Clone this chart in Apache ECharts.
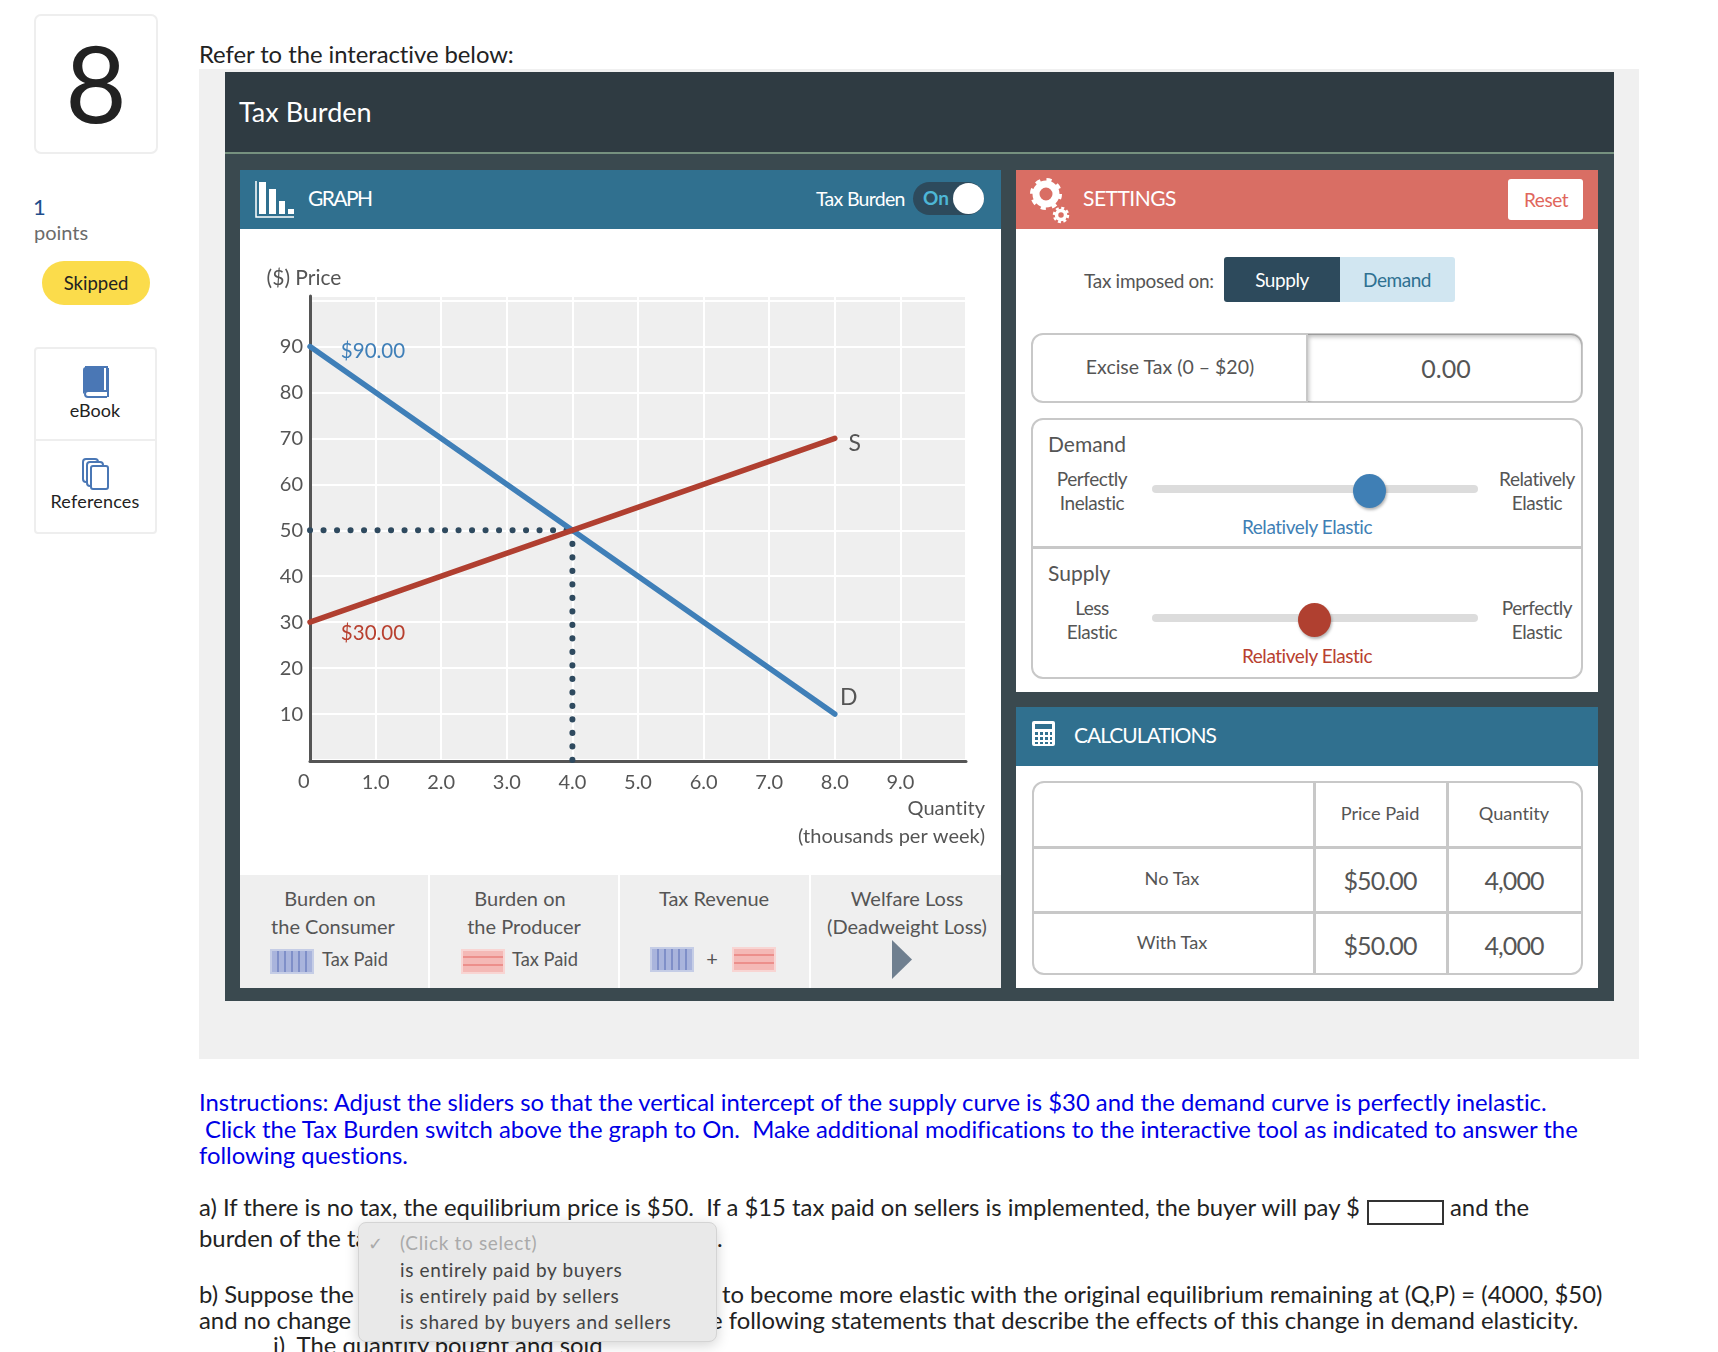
<!DOCTYPE html>
<html>
<head>
<meta charset="utf-8">
<title>Tax Burden</title>
<script src="https://cdn.jsdelivr.net/npm/echarts@6/dist/echarts.min.js"></script>
<style>
html,body{margin:0;padding:0;background:#fff;}
#page{position:relative;width:1718px;height:1352px;overflow:hidden;font-family:Lato,sans-serif;color:#222;font-variant-ligatures:none;}
.b{position:absolute;box-sizing:border-box;}
.t{position:absolute;white-space:pre;transform:translateY(-50%);line-height:1;margin-top:-1px;}
.c{transform:translate(-50%,-50%);}
.g{color:#555;font-size:20px;}
.s{font-size:19px;letter-spacing:-.45px;}
.w{color:#fff;}
.q{font-size:23.85px;color:#222;}
.i{font-size:23.85px;color:#0000e6;}
.d{font-size:19px;color:#444;left:400px;letter-spacing:.65px;}
.sw-b{background:repeating-linear-gradient(90deg,#a9b4dc 0 5px,#7f8fc8 5px 7px);border:2px solid #c5cde6;}
.sw-r{background:repeating-linear-gradient(0deg,#f4b9b6 0 6px,#ec8f8b 6px 8px);border:2px solid #f8d5d3;}
</style>
</head>
<body>
<div id="page">

<!-- left rail -->
<div class="b" style="left:34px;top:14px;width:124px;height:140px;border:2px solid #eee;border-radius:7px;"></div>
<div class="t c" style="left:96px;top:83px;font-size:106px;color:#222;">8</div>
<div class="t" style="left:33px;top:208px;font-size:22px;color:#1f4e8c;">1</div>
<div class="t" style="left:34px;top:233px;font-size:20px;color:#6b6b6b;">points</div>
<div class="b" style="left:42px;top:261px;width:108px;height:44px;border-radius:22px;background:#fbdc4b;"></div>
<div class="t c" style="left:96px;top:284px;font-size:18.5px;">Skipped</div>
<div class="b" style="left:34px;top:347px;width:123px;height:187px;border:2px solid #eee;border-radius:4px;"></div>
<div class="b" style="left:35px;top:439px;width:121px;height:2px;background:#eee;"></div>
<svg class="b" style="left:82px;top:366px;" width="28" height="32" viewBox="0 0 28 32">
  <path d="M3 1h22v24H6a3 3 0 0 0 0 6h19" fill="none" stroke="#4a77b5" stroke-width="2"/>
  <path d="M1 4a3 3 0 0 1 3-3h18v25H5a4 4 0 0 0-4 2z" fill="#4a77b5"/>
  <path d="M26 2v29" stroke="#4a77b5" stroke-width="2"/>
</svg>
<div class="t c" style="left:95px;top:411px;font-size:18px;">eBook</div>
<svg class="b" style="left:82px;top:458px;" width="28" height="32" viewBox="0 0 28 32" fill="#fff" stroke="#4a77b5" stroke-width="2">
  <rect x="1" y="1" width="15" height="23" rx="3"/>
  <rect x="5" y="4" width="16" height="24" rx="3"/>
  <rect x="9" y="8" width="17" height="23" rx="2"/>
</svg>
<div class="t c" style="left:95px;top:502px;font-size:18px;letter-spacing:.2px;">References</div>

<div class="t q" style="left:199px;top:55px;letter-spacing:-.05px;">Refer to the interactive below:</div>

<!-- interactive frame -->
<div class="b" style="left:199px;top:69px;width:1440px;height:990px;background:#f0f0f0;"></div>
<div class="b" style="left:225px;top:72px;width:1389px;height:929px;background:#3a494f;"></div>
<div class="b" style="left:225px;top:72px;width:1389px;height:82px;background:#2f3b42;border-bottom:2px solid #76917f;"></div>
<div class="t w" style="left:239px;top:112px;font-size:27px;">Tax Burden</div>

<!-- graph panel -->
<div class="b" style="left:240px;top:170px;width:761px;height:818px;background:#fff;"></div>
<div class="b" style="left:240px;top:170px;width:761px;height:59px;background:#30708f;"></div>
<svg class="b" style="left:255px;top:181px;" width="40" height="38" viewBox="0 0 40 38" fill="#fff">
  <path d="M1 0v36h38" fill="none" stroke="#fff" stroke-width="1.5"/>
  <rect x="4" y="1" width="7" height="32"/><rect x="14" y="8" width="7" height="25"/>
  <rect x="24" y="20" width="6" height="13"/><rect x="33" y="28" width="6" height="5"/>
</svg>
<div class="t w" style="left:308px;top:198px;font-size:21px;letter-spacing:-1.6px;">GRAPH</div>
<div class="t w" style="left:816px;top:200px;font-size:19.5px;letter-spacing:-.7px;">Tax Burden</div>
<div class="b" style="left:913px;top:182px;width:71px;height:33px;border-radius:17px;background:#2d4a5c;"></div>
<div class="t" style="left:923px;top:198px;font-size:19px;font-weight:700;color:#4db6d6;">On</div>
<div class="b" style="left:953px;top:183px;width:31px;height:31px;border-radius:50%;background:#fff;"></div>

<div id="main" class="b" style="left:240px;top:229px;width:761px;height:646px;"></div>

<div class="b" style="left:240px;top:875px;width:188px;height:113px;background:#efefef;"></div>
<div class="b" style="left:430px;top:875px;width:188px;height:113px;background:#efefef;"></div>
<div class="b" style="left:620px;top:875px;width:189px;height:113px;background:#efefef;"></div>
<div class="b" style="left:811px;top:875px;width:190px;height:113px;background:#efefef;"></div>
<div class="t c g" style="left:330px;top:899px;">Burden on</div>
<div class="t c g" style="left:333px;top:927px;">the Consumer</div>
<div class="b sw-b" style="left:270px;top:949px;width:44px;height:25px;"></div>
<div class="t g" style="left:322px;top:960px;font-size:18.3px;">Tax Paid</div>
<div class="t c g" style="left:520px;top:899px;">Burden on</div>
<div class="t c g" style="left:524px;top:927px;">the Producer</div>
<div class="b sw-r" style="left:461px;top:949px;width:44px;height:25px;"></div>
<div class="t g" style="left:512px;top:960px;font-size:18.3px;">Tax Paid</div>
<div class="t c g" style="left:714px;top:899px;">Tax Revenue</div>
<div class="b sw-b" style="left:650px;top:947px;width:44px;height:25px;"></div>
<div class="t c g" style="left:712px;top:959px;">+</div>
<div class="b sw-r" style="left:732px;top:947px;width:44px;height:25px;"></div>
<div class="t c g" style="left:907px;top:899px;">Welfare Loss</div>
<div class="t c g" style="left:907px;top:927px;">(Deadweight Loss)</div>
<svg class="b" style="left:892px;top:940px;" width="20" height="39"><path d="M0 0L20 19.5L0 39z" fill="#6f7f8f"/></svg>

<!-- settings panel -->
<div class="b" style="left:1016px;top:170px;width:582px;height:522px;background:#fff;"></div>
<div class="b" style="left:1016px;top:170px;width:582px;height:59px;background:#d96e64;"></div>
<svg class="b" style="left:1030px;top:178px;" width="40" height="46" viewBox="0 0 40 46">
  <circle cx="16" cy="16" r="10" fill="none" stroke="#fff" stroke-width="7"/>
  <circle cx="16" cy="16" r="14" fill="none" stroke="#fff" stroke-width="4" stroke-dasharray="5 6"/>
  <circle cx="31" cy="37" r="4.5" fill="none" stroke="#fff" stroke-width="3.5"/>
  <circle cx="31" cy="37" r="7" fill="none" stroke="#fff" stroke-width="2.5" stroke-dasharray="3 2.5"/>
</svg>
<div class="t w" style="left:1083px;top:198px;font-size:21px;letter-spacing:-.5px;">SETTINGS</div>
<div class="b" style="left:1508px;top:179px;width:75px;height:41px;background:#fff;border-radius:3px;"></div>
<div class="t c s" style="left:1546px;top:200px;color:#e0665c;">Reset</div>
<div class="t g s" style="left:1084px;top:281px;letter-spacing:-.3px;">Tax imposed on:</div>
<div class="b" style="left:1224px;top:257px;width:116px;height:45px;background:#2d4a5c;border-radius:3px 0 0 3px;"></div>
<div class="t c w s" style="left:1282px;top:280px;">Supply</div>
<div class="b" style="left:1340px;top:257px;width:115px;height:45px;background:#d1e6f1;border-radius:0 3px 3px 0;"></div>
<div class="t c s" style="left:1397px;top:280px;color:#2f7191;">Demand</div>

<div class="b" style="left:1031px;top:333px;width:552px;height:70px;border:2.5px solid #c8c8c8;border-radius:12px;"></div>
<div class="b" style="left:1306px;top:334px;width:276px;height:68px;border-left:2.5px solid #c8c8c8;border-radius:0 11px 11px 0;box-shadow:inset 1px 3px 4px rgba(0,0,0,.25);"></div>
<div class="t c g" style="left:1170px;top:368px;font-size:19.5px;">Excise Tax (0 – $20)</div>
<div class="t c g" style="left:1446px;top:369px;font-size:25px;">0.00</div>

<div class="b" style="left:1031px;top:418px;width:552px;height:261px;border:2.5px solid #c8c8c8;border-radius:12px;"></div>
<div class="b" style="left:1032px;top:546px;width:550px;height:2.5px;background:#c8c8c8;"></div>
<div class="t g" style="left:1048px;top:444px;font-size:21px;">Demand</div>
<div class="t c g s" style="left:1092px;top:479px;">Perfectly</div>
<div class="t c g s" style="left:1092px;top:503px;">Inelastic</div>
<div class="b" style="left:1152px;top:485px;width:326px;height:8px;border-radius:4px;background:#dcdcdc;"></div>
<div class="b" style="left:1353px;top:474px;width:33px;height:34px;border-radius:50%;background:#3f7fb5;box-shadow:1px 2px 3px rgba(0,0,0,.3);"></div>
<div class="t c g s" style="left:1537px;top:479px;">Relatively</div>
<div class="t c g s" style="left:1537px;top:503px;">Elastic</div>
<div class="t c s" style="left:1307px;top:527px;color:#3f7fb5;">Relatively Elastic</div>
<div class="t g" style="left:1048px;top:573px;font-size:21px;">Supply</div>
<div class="t c g s" style="left:1092px;top:608px;">Less</div>
<div class="t c g s" style="left:1092px;top:632px;">Elastic</div>
<div class="b" style="left:1152px;top:614px;width:326px;height:8px;border-radius:4px;background:#dcdcdc;"></div>
<div class="b" style="left:1298px;top:603px;width:33px;height:34px;border-radius:50%;background:#b04030;box-shadow:1px 2px 3px rgba(0,0,0,.3);"></div>
<div class="t c g s" style="left:1537px;top:608px;">Perfectly</div>
<div class="t c g s" style="left:1537px;top:632px;">Elastic</div>
<div class="t c s" style="left:1307px;top:656px;color:#b8402f;">Relatively Elastic</div>

<!-- calculations panel -->
<div class="b" style="left:1016px;top:707px;width:582px;height:281px;background:#fff;"></div>
<div class="b" style="left:1016px;top:707px;width:582px;height:59px;background:#30708f;"></div>
<svg class="b" style="left:1032px;top:721px;" width="23" height="25" viewBox="0 0 23 25">
  <rect width="23" height="25" rx="2" fill="#fff"/><rect x="3" y="3" width="17" height="5" fill="#30708f"/>
  <path d="M3 11h3v3H3zM8 11h3v3H8zM13 11h3v3h-3zM18 11h2v3h-2zM3 16h3v3H3zM8 16h3v3H8zM13 16h3v3h-3zM18 16h2v3h-2zM3 21h3v2H3zM8 21h3v2H8zM13 21h3v2h-3zM18 21h2v2h-2z" fill="#30708f"/>
</svg>
<div class="t w" style="left:1074px;top:735px;font-size:21px;letter-spacing:-1px;">CALCULATIONS</div>
<div class="b" style="left:1032px;top:781px;width:551px;height:194px;border:2.5px solid #c8c8c8;border-radius:12px;"></div>
<div class="b" style="left:1033px;top:846px;width:549px;height:2.5px;background:#c8c8c8;"></div>
<div class="b" style="left:1033px;top:911px;width:549px;height:2.5px;background:#c8c8c8;"></div>
<div class="b" style="left:1313px;top:782px;width:2.5px;height:193px;background:#c8c8c8;"></div>
<div class="b" style="left:1446px;top:782px;width:2.5px;height:193px;background:#c8c8c8;"></div>
<div class="t c g" style="left:1380px;top:814px;font-size:18.2px;">Price Paid</div>
<div class="t c g" style="left:1514px;top:814px;font-size:18.2px;">Quantity</div>
<div class="t c g" style="left:1172px;top:879px;font-size:18.2px;">No Tax</div>
<div class="t c g" style="left:1380px;top:881px;font-size:25px;letter-spacing:-.9px;">$50.00</div>
<div class="t c g" style="left:1514px;top:881px;font-size:25px;letter-spacing:-.9px;">4,000</div>
<div class="t c g" style="left:1172px;top:943px;font-size:18.2px;">With Tax</div>
<div class="t c g" style="left:1380px;top:946px;font-size:25px;letter-spacing:-.9px;">$50.00</div>
<div class="t c g" style="left:1514px;top:946px;font-size:25px;letter-spacing:-.9px;">4,000</div>

<!-- question text -->
<div class="t i" style="left:199px;top:1103px;">Instructions: Adjust the sliders so that the vertical intercept of the supply curve is $30 and the demand curve is perfectly inelastic.</div>
<div class="t i" style="left:205px;top:1130px;">Click the Tax Burden switch above the graph to On.  Make additional modifications to the interactive tool as indicated to answer the</div>
<div class="t i" style="left:199px;top:1156px;">following questions.</div>
<div class="t q" style="left:199px;top:1208px;">a) If there is no tax, the equilibrium price is $50.  If a $15 tax paid on sellers is implemented, the buyer will pay $</div>
<div class="b" style="left:1367px;top:1200px;width:77px;height:25px;border:2px solid #333;"></div>
<div class="t q" style="left:1450px;top:1208px;">and the</div>
<div class="t q" style="left:199px;top:1239px;">burden of the tax</div>
<div class="t q" style="left:717px;top:1239px;">.</div>
<div class="t q" style="left:199px;top:1295px;">b) Suppose the</div>
<div class="t q" style="left:722px;top:1295px;">to become more elastic with the original equilibrium remaining at (Q,P) = (4000, $50)</div>
<div class="t q" style="left:199px;top:1321px;">and no change</div>
<div class="t q" style="left:710px;top:1321px;">e following statements that describe the effects of this change in demand elasticity.</div>
<div class="t q" style="left:273px;top:1346px;">i)  The quantity bought and sold</div>
<div class="b" style="left:358px;top:1222px;width:359px;height:120px;border-radius:8px;background:#e9e9e9;border:1px solid #d4d4d4;box-shadow:0 3px 14px rgba(0,0,0,.18);"></div>
<div class="t" style="left:368px;top:1244px;font-size:18px;color:#aaa;">✓</div>
<div class="t d" style="top:1243px;color:#aaa;">(Click to select)</div>
<div class="t d" style="top:1270px;">is entirely paid by buyers</div>
<div class="t d" style="top:1296px;">is entirely paid by sellers</div>
<div class="t d" style="top:1322px;">is shared by buyers and sellers</div>
</div>

<script>
    // 价格刻度和数量刻度
    var priceTicks = [10, 20, 30, 40, 50, 60, 70, 80, 90];
    var quantityTicks = [1, 2, 3, 4, 5, 6, 7, 8, 9];
    // 需求、供给和均衡虚线
    var demandLine = [[0, 90], [8, 10]];
    var supplyLine = [[0, 30], [8, 70]];
    var priceGuide = [[0, 50], [4, 50]];
    var quantityGuide = [[4, 50], [4, 0]];

    var tickFont = 'Lato, sans-serif';
    var tickColor = '#555';

    function pointLabel(value, text, color, offset, size) {
        return {
            value: value,
            label: {
                show: true,
                formatter: text,
                position: 'inside',
                offset: offset,
                color: color,
                fontSize: size,
                fontFamily: tickFont
            }
        };
    }

    function curve(name, data, color) {
        return {
            name: name,
            type: 'line',
            data: data,
            symbol: 'circle',
            symbolSize: 0.1,
            silent: true,
            z: 3,
            lineStyle: { color: color, width: 5.5, cap: 'round' }
        };
    }

    function guide(name, data) {
        return {
            name: name,
            type: 'line',
            data: data,
            symbol: 'none',
            silent: true,
            z: 2,
            lineStyle: { color: '#2f4a5f', width: 6, cap: 'round', type: [0.1, 13.4] }
        };
    }

    var myChart = echarts.init(document.getElementById('main'));
    var option = {
        animation: false,
        grid: {
            left: 70, top: 67, width: 656, height: 464,
            outerBoundsMode: 'none',
            show: true, backgroundColor: '#efefef', borderWidth: 0
        },
        xAxis: {
            type: 'value',
            min: 0,
            max: 10,
            interval: 1,
            offset: 1,
            name: 'Quantity\n(thousands per week)',
            nameLocation: 'end',
            nameGap: 19,
            nameMoveOverlap: false,
            nameTextStyle: {
                align: 'right', verticalAlign: 'top', color: tickColor,
                fontSize: 20, fontFamily: tickFont, lineHeight: 28,
                padding: [34, 0, 0, 0]
            },
            axisLine: { show: true, onZero: false, lineStyle: { color: '#555', width: 3 } },
            axisTick: { show: false },
            splitLine: { show: true, lineStyle: { color: '#fff', width: 2 } },
            axisLabel: {
                color: tickColor, fontSize: 20, fontFamily: tickFont, margin: 12,
                showMinLabel: true, showMaxLabel: true,
                formatter: function (v) { return quantityTicks.indexOf(v) >= 0 ? v.toFixed(1) : ''; }
            }
        },
        yAxis: {
            type: 'value',
            min: 0,
            max: 101,
            interval: 10,
            name: '($) Price',
            nameLocation: 'end',
            nameGap: 18,
            nameMoveOverlap: false,
            nameTextStyle: {
                align: 'center', verticalAlign: 'middle', color: tickColor,
                fontSize: 21, fontFamily: tickFont, padding: [0, 12, 0, 0]
            },
            axisLine: { show: true, onZero: false, lineStyle: { color: '#555', width: 3 } },
            axisTick: { show: false },
            splitLine: { show: true, lineStyle: { color: '#fff', width: 2 } },
            axisLabel: {
                color: tickColor, fontSize: 20, fontFamily: tickFont, margin: 7,
                padding: [2, 0, 0, 0],
                formatter: function (v) { return priceTicks.indexOf(v) >= 0 ? String(v) : ''; }
            }
        },
        graphic: [{
            type: 'text', left: 58, top: 543,
            style: { text: '0', fill: tickColor, font: '20px ' + tickFont }
        }],
        series: [
            guide('price guide', priceGuide),
            guide('quantity guide', quantityGuide),
            curve('D', [
                pointLabel(demandLine[0], '$' + demandLine[0][1].toFixed(2), '#3f7fb8', [63, 5], 20.5),
                pointLabel(demandLine[1], 'D', '#555', [14, -16], 23)
            ], '#3f7fb8'),
            curve('S', [
                pointLabel(supplyLine[0], '$' + supplyLine[0][1].toFixed(2), '#b8402f', [63, 11], 20.5),
                pointLabel(supplyLine[1], 'S', '#555', [20, 5], 23)
            ], '#b03f30')
        ]
    };
    myChart.setOption(option);
</script>
</body>
</html>
